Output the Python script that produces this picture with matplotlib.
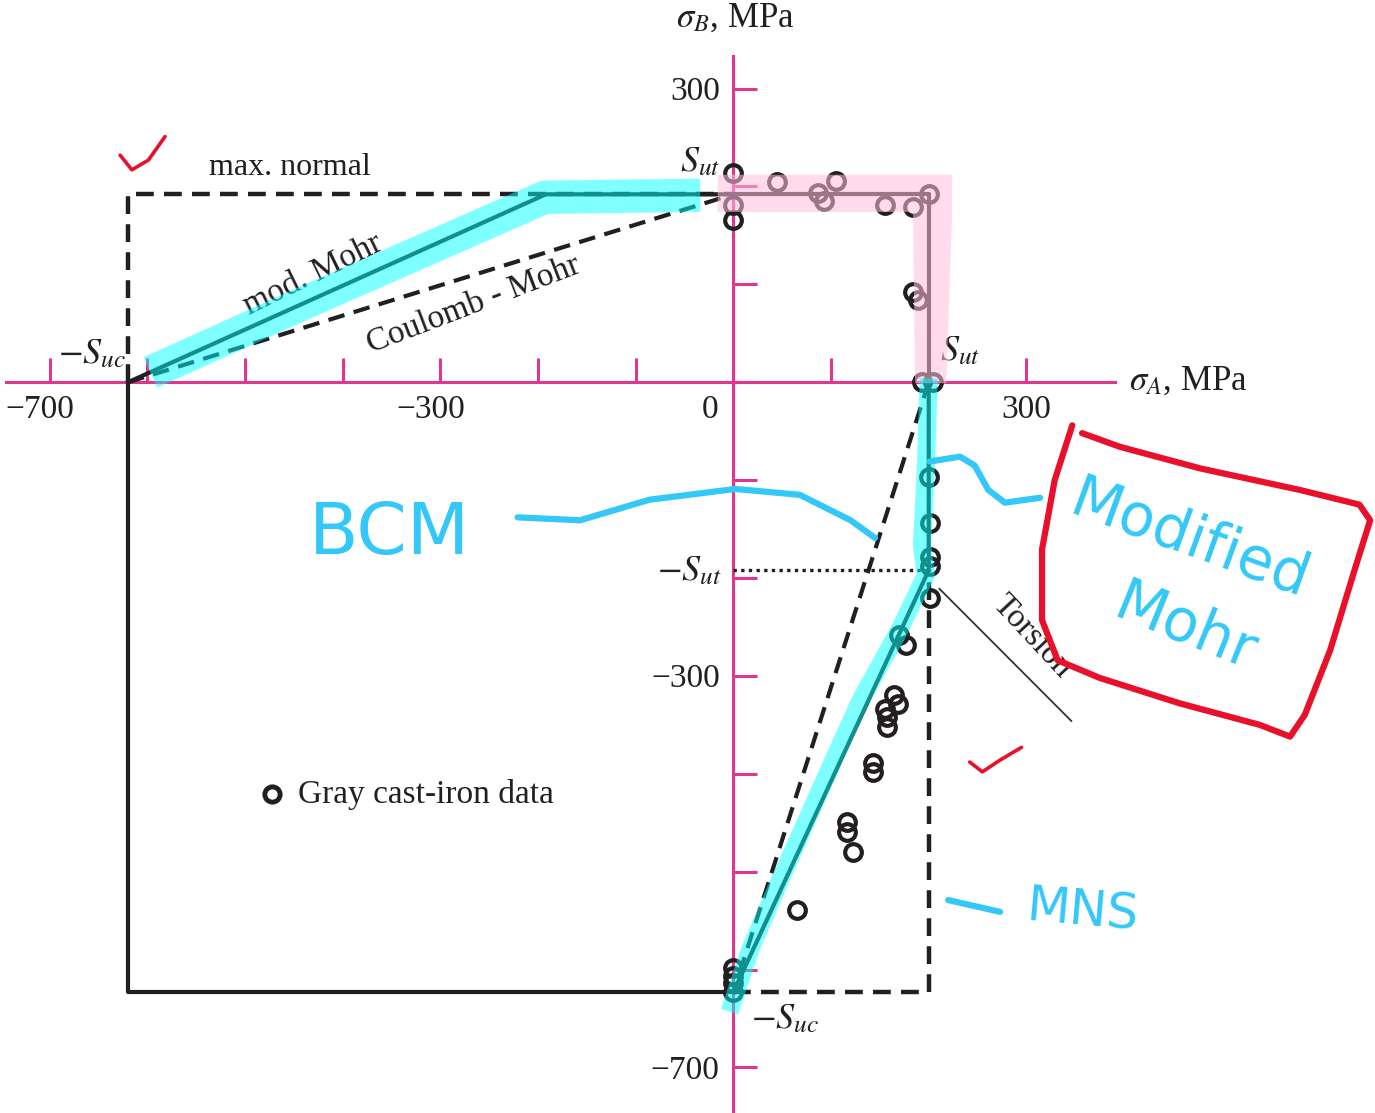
import matplotlib
matplotlib.use('Agg')
import matplotlib.pyplot as plt

plt.rcParams['font.family'] = 'Liberation Serif'
plt.rcParams['mathtext.fontset'] = 'stix'

# Strengths of the gray cast iron (MPa)
sut_a = 200     # tensile strength along sigma_A
sut_b = 192     # tensile strength along sigma_B
suc_a = 620     # compressive strength along sigma_A
suc_b = 623     # compressive strength along sigma_B

# Biaxial fracture tests, gray cast iron (sigma_A, sigma_B) in MPa
test_a = [0, 0, 0, 45, 87, 93, 105, 155, 184, 200, 184, 189, 193, 204,
          200, 201, 201, 201, 201, 170, 177, 164, 169, 155, 157, 157,
          143, 143, 116, 116, 122, 65, 0, 0, 0, 0]
test_b = [214, 181, 166, 205, 193, 185, 206, 181, 179, 192, 92, 84, 0, 0,
          -97, -144, -178, -188, -220, -258, -268, -319, -329, -334, -342, -352,
          -389, -398, -449, -459, -480, -539, -598, -607, -614, -623]

x_ticks = list(range(-700, 400, 100))
y_ticks = list(range(-700, 400, 100))
x_tick_labels = {-700: '−700', -300: '−300', 0: '0', 300: '300'}
y_tick_labels = {300: '300', -300: '−300', -700: '−700'}

# hand-drawn markup on top of the figure
cyan_q2 = ([-597, -444, -321, -193, -34], [10, 79, 133, 189, 191])
cyan_q4 = ([200, 197, 193, 197, 170, 130, 89, 48, 17, -4],
           [4, -90, -166, -197, -253, -325, -416, -508, -580, -643])
pink_a = [-16, 224, 224, 218, 186, 184, -16]
pink_b = [212, 212, 174, -1, -1, 174, 174]
red_box_a = [347, 329, 316, 316, 332, 375, 457, 539, 570, 585, 611, 636, 652,
             641, 580, 478, 396, 357]
red_box_b = [-44, -100, -171, -243, -284, -302, -328, -350, -362, -340, -274,
             -192, -141, -125, -110, -88, -66, -52]
check1 = ([-628, -616, -599, -582], [232, 217, 227, 251])
check2 = ([242, 255, 273, 295], [-388, -398, -386, -373])
bcm_curve = ([-221, -157, -86, 2, 68, 120, 145],
             [-138, -141, -120, -109, -115, -141, -159])
mm_curve = ([201, 232, 247, 261, 278, 314], [-81, -76, -85, -110, -123, -118])
mns_dash = ([220, 273], [-529, -541])

ink = '#231f20'
axis_col = '#e0368e'
blue = '#33c8f8'
red = '#e8102a'

fig = plt.figure(figsize=(13.75, 11.13), dpi=100)
ax = fig.add_axes([0, 0, 1, 1])
ax.set_xlim(-751, 657)
ax.set_ylim(-746.5, 390.5)

# axes crossing at the origin
for side in ['top', 'right']:
    ax.spines[side].set_visible(False)
ax.spines['bottom'].set_position(('data', 0))
ax.spines['left'].set_position(('data', 0))
ax.spines['bottom'].set_bounds(-745, 391)
ax.spines['left'].set_bounds(-746.5, 333)
for side in ['bottom', 'left']:
    ax.spines[side].set_color(axis_col)
    ax.spines[side].set_linewidth(2.2)
ax.set_xticks(x_ticks)
ax.set_yticks(y_ticks)
ax.tick_params(direction='in', length=17, width=2.2, color=axis_col,
               labelbottom=False, labelleft=False)

for v, s in x_tick_labels.items():
    dx = -24 if v == 0 else -10 if v < 0 else 0
    ax.text(v + dx, -28, s, ha='center', va='center', fontsize=24, color=ink)
for v, s in y_tick_labels.items():
    ax.text(-14, v - 3, s, ha='right', va='center', fontsize=24, color=ink)

ax.text(1.5, 372, r'$\sigma_B$, MPa', ha='center', va='center', fontsize=25, color=ink)
ax.text(405, 1, r'$\sigma_A$, MPa', ha='left', va='center', fontsize=25, color=ink)

# failure envelopes
ax.plot([-suc_a, -suc_a, 0], [0, -suc_b, -suc_b], color=ink, lw=3, zorder=3)
ax.plot([0, sut_a, sut_a], [sut_b, sut_b, 0], color=ink, lw=3, zorder=3)
ax.plot([-suc_a, -sut_b, 0], [0, sut_b, sut_b], color=ink, lw=3, zorder=3)
ax.plot([sut_a, sut_a, 0], [0, -sut_b, -suc_b], color=ink, lw=3, zorder=3)
ax.plot([-suc_a, -suc_a, 0], [0, sut_b, sut_b], color=ink, lw=3.2,
        dashes=(4, 2.3), zorder=3)
ax.plot([0, sut_a, sut_a], [-suc_b, -suc_b, -sut_b], color=ink, lw=3.2,
        dashes=(4, 2.3), zorder=3)
ax.plot([-suc_a, 0], [0, sut_b], color=ink, lw=3, dashes=(4, 2.3), zorder=3)
ax.plot([sut_a, 0], [0, -suc_b], color=ink, lw=3, dashes=(4, 2.3), zorder=3)
ax.plot([0, sut_a], [-sut_b, -sut_b], color=ink, lw=2.4,
        linestyle=(0, (1, 1.3)), zorder=3)

# torsion load line, sigma_B = -sigma_A
ax.plot([211, 346], [-211, -346], color='#333333', lw=1.3, zorder=3)
ax.text(306, -260, 'Torsion', rotation=-47, ha='center', va='center',
        fontsize=24, color=ink)

ax.plot(test_a, test_b, 'o', ms=12, mfc='none', mec=ink, mew=3, zorder=4)

ax.text(-454, 219, 'max. normal', ha='center', va='center', fontsize=23, color=ink)
ax.text(-431, 110, 'mod. Mohr', rotation=26, ha='center', va='center',
        fontsize=24, color=ink)
ax.text(-266, 79, 'Coulomb - Mohr', rotation=21, ha='center', va='center',
        fontsize=24, color=ink)
ax.text(-657, 28, r'$-S_{uc}$', ha='center', va='center', fontsize=26, color=ink)
ax.text(-34, 224, r'$S_{ut}$', ha='center', va='center', fontsize=26, color=ink)
ax.text(232, 31, r'$S_{ut}$', ha='center', va='center', fontsize=26, color=ink)
ax.text(-45, -194, r'$-S_{ut}$', ha='center', va='center', fontsize=26, color=ink)
ax.text(53, -651, r'$-S_{uc}$', ha='center', va='center', fontsize=26, color=ink)

# legend
ax.plot([-472], [-421], 'o', ms=11, mfc='none', mec=ink, mew=3.5)
ax.text(-446, -421, 'Gray cast-iron data', ha='left', va='center',
        fontsize=24, color=ink)

# highlighter strokes
ax.fill(pink_a, pink_b, color='#ffbedc', alpha=0.55, lw=0, zorder=6)
ax.plot(*cyan_q2, color='cyan', alpha=0.5, lw=24, solid_capstyle='butt',
        solid_joinstyle='round', zorder=6)
ax.plot(*cyan_q4, color='cyan', alpha=0.5, lw=13, solid_capstyle='butt',
        solid_joinstyle='round', zorder=6)

# pen markup
ax.plot(red_box_a, red_box_b, color=red, lw=4.5, solid_capstyle='round', zorder=7)
ax.plot(*check1, color=red, lw=2.6, solid_capstyle='round', zorder=7)
ax.plot(*check2, color=red, lw=2.6, solid_capstyle='round', zorder=7)
ax.plot(*bcm_curve, color=blue, lw=4.5, solid_capstyle='round', zorder=7)
ax.plot(*mm_curve, color=blue, lw=4.5, solid_capstyle='round', zorder=7)
ax.plot(*mns_dash, color=blue, lw=4.5, solid_capstyle='round', zorder=7)
hand = dict(family='DejaVu Sans', color=blue, ha='center', va='center', zorder=7)
ax.text(-352, -156, 'BCM', fontsize=52, **hand)
ax.text(467, -161, 'Modified', fontsize=42, rotation=-20, **hand)
ax.text(462, -251, 'Mohr', fontsize=42, rotation=-22, **hand)
ax.text(357, -541, 'MNS', fontsize=36, rotation=-5, **hand)

fig.savefig('out.png', dpi=100)
